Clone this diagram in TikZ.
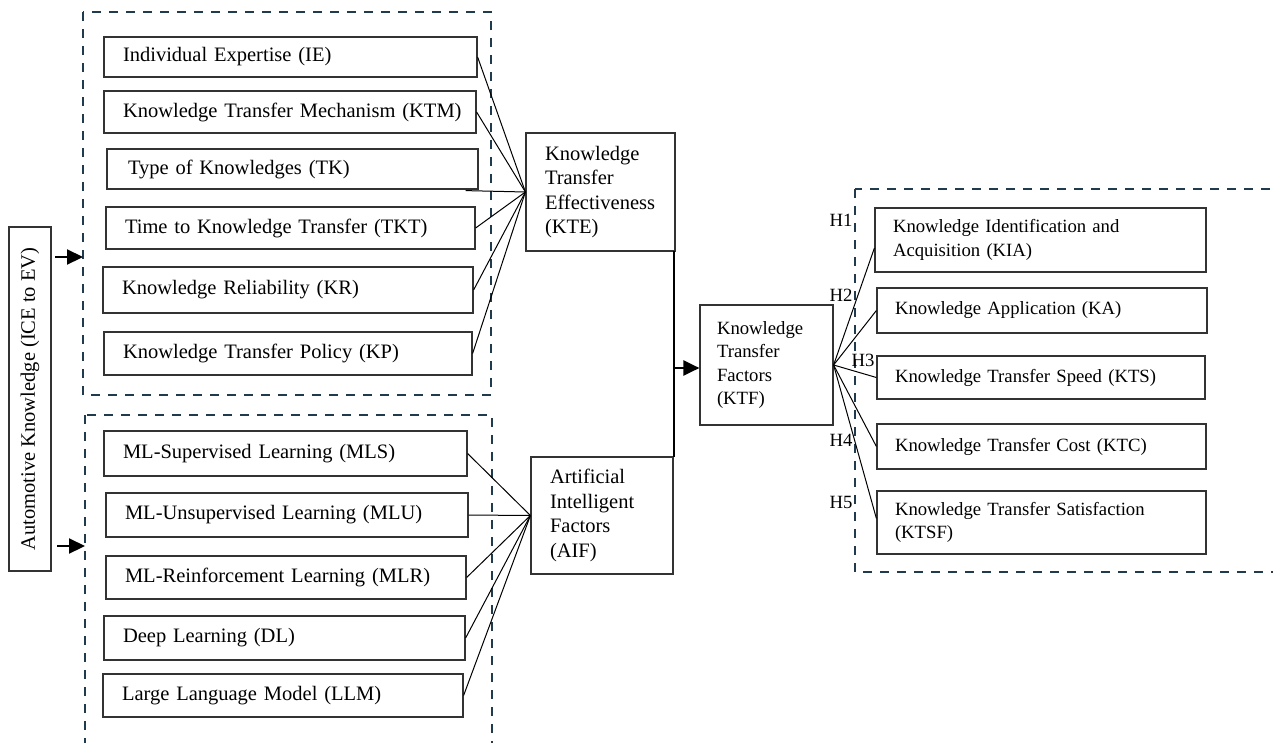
\documentclass[tikz,border=0pt]{standalone}
\usepackage{fontspec}
\setmainfont{Liberation Serif}
\usetikzlibrary{arrows.meta,calc}
\definecolor{dashcol}{HTML}{1F3B4D}
\definecolor{boxcol}{HTML}{333333}
\newcommand{\lfont}{\fontsize{20.5pt}{24.5pt}\selectfont}
\newcommand{\rfont}{\fontsize{18.7pt}{23.5pt}\selectfont}
\begin{document}
\begin{tikzpicture}[x=1pt,y=-1pt,
  box/.style={draw=boxcol, line width=1.2pt, align=left, inner xsep=19pt, inner ysep=0pt, font=\lfont},
  rbox/.style={box, inner xsep=18pt, font=\rfont},
  conn/.style={draw=black, line width=1pt},
  grp/.style={draw=dashcol, line width=2.4pt, dash pattern=on 9pt off 8pt},
  arr/.style={draw=black, line width=2.2pt, -{Triangle[length=16pt,width=15pt]}},
  hlab/.style={font=\rfont, inner sep=0pt}]
\useasboundingbox (0,0) rectangle (1273,742);
\clip (0,0) rectangle (1273,742);
\fill[white] (0,0) rectangle (1273,742);

% dashed groups
\draw[grp] (83,12) rectangle (491,395);
\draw[grp] (85,415) rectangle (492,770);
\draw[grp] (855,189) rectangle (1300,572);

% left vertical box
\node[draw=boxcol, line width=1.2pt, rotate=90, minimum width=344pt, minimum height=42pt, inner sep=0pt, font=\lfont] (AK) at (30,399) {Automotive Knowledge (ICE to EV)};

% top group
\node[box, text width=335pt, minimum height=40pt] (IE)  at (290.5,57)  {Individual Expertise (IE)};
\node[box, text width=334pt, minimum height=42pt] (KTM) at (290,112)   {\mbox{Knowledge Transfer Mechanism (KTM)}};
\node[box, inner xsep=21pt, text width=329pt, minimum height=40pt] (TK)  at (292.5,169) {Type of Knowledges (TK)};
\node[box, text width=331pt, minimum height=42pt] (TKT) at (290.5,228) {Time to Knowledge Transfer (TKT)};
\node[box, text width=332pt, minimum height=46pt] (KR)  at (288,290)   {Knowledge Reliability (KR)};
\node[box, text width=330pt, minimum height=43pt] (KP)  at (288,353.5) {Knowledge Transfer Policy (KP)};

% bottom group
\node[box, text width=325pt, minimum height=45pt] (MLS) at (285.5,453.5) {ML-Supervised Learning (MLS)};
\node[box, text width=324pt, minimum height=44pt] (MLU) at (287,515)     {ML-Unsupervised Learning (MLU)};
\node[box, text width=322pt, minimum height=43pt] (MLR) at (286,577.5)   {ML-Reinforcement Learning (MLR)};
\node[box, text width=323pt, minimum height=44pt] (DL)  at (284.5,638)   {Deep Learning (DL)};
\node[box, text width=322pt, minimum height=43pt] (LLM) at (283,695.5)   {Large Language Model (LLM)};

% middle
\node[box, text width=111pt, minimum height=118pt] (KTE) at (600.5,192) {Knowledge\\Transfer\\Effectiveness\\(KTE)};
\node[box, text width=104pt, minimum height=117pt] (AIF) at (602,515.5) {Artificial\\Intelligent\\Factors\\(AIF)};
\node[box, inner xsep=17pt, text width=99pt, minimum height=120pt, font=\rfont] (KTF) at (766.5,365) {Knowledge\\Transfer\\Factors\\(KTF)};

% right group
\node[rbox, text width=295pt, minimum height=64pt] (KIA)  at (1040.5,240)  {Knowledge Identification and\\Acquisition (KIA)};
\node[rbox, text width=294pt, minimum height=45pt] (KA)   at (1042,310.5)  {Knowledge Application (KA)};
\node[rbox, text width=292pt, minimum height=43pt] (KTS)  at (1041,377.5)  {Knowledge Transfer Speed (KTS)};
\node[rbox, text width=293pt, minimum height=45pt] (KTC)  at (1041.5,446.5) {Knowledge Transfer Cost (KTC)};
\node[rbox, text width=293pt, minimum height=63pt] (KTSF) at (1041.5,522.5) {Knowledge Transfer Satisfaction\\(KTSF)};

% connectors to KTE
\coordinate (tkend) at ($(TK.south east)+(-13,1)$);
\draw[conn] (IE.east) -- (KTE.west);
\draw[conn] (KTM.east) -- (KTE.west);
\draw[conn] (tkend) -- (KTE.west);
\draw[conn] (TKT.east) -- (KTE.west);
\draw[conn] (KR.east) -- (KTE.west);
\draw[conn] (KP.east) -- (KTE.west);

% connectors to AIF
\draw[conn] (MLS.east) -- (AIF.west);
\draw[conn] (MLU.east) -- (AIF.west);
\draw[conn] (MLR.east) -- (AIF.west);
\draw[conn] (DL.east) -- (AIF.west);
\draw[conn] (LLM.east) -- (AIF.west);

% KTE/AIF to KTF
\coordinate (vtop) at (674,251);
\coordinate (vbot) at (674,457);
\coordinate (vmid) at (674,368);
\draw[black, line width=2.2pt] (vtop) -- (vbot);
\draw[arr] (vmid) -- (KTF.west |- vmid);

% KTF to outcomes
\draw[conn] (KTF.east) -- ($(KIA.west)+(0,8)$);
\draw[conn] (KTF.east) -- (KA.west);
\draw[conn] (KTF.east) -- (KTS.west);
\draw[conn] (KTF.east) -- (KTC.west);
\draw[conn] (KTF.east) -- ($(KTSF.west)+(0,-4)$);

% hypothesis labels
\node[hlab] (H1) at (841,220) {H1};
\node[hlab] (H2) at (841,295) {H2};
\node[hlab] (H3) at (863,360) {H3};
\node[hlab] (H4) at (841,440) {H4};
\node[hlab] (H5) at (841,502) {H5};

% input arrows
\coordinate (a1s) at (55,257);
\coordinate (a1e) at (83,257);
\coordinate (a2s) at (57,546);
\coordinate (a2e) at (85,546);
\draw[arr] (a1s) -- (a1e);
\draw[arr] (a2s) -- (a2e);
\end{tikzpicture}
\end{document}
